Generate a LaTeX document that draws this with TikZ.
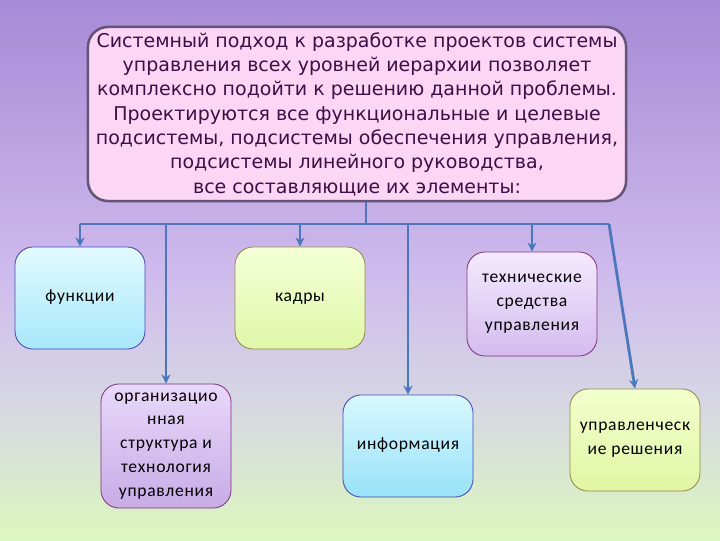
\documentclass[tikz,border=0pt]{standalone}
\usepackage{fontspec}
\setmainfont{Carlito}[LetterSpace=4]
\newfontfamily\introfont{DejaVu Sans}
\usetikzlibrary{arrows.meta, positioning}

\definecolor{bgtop}{RGB}{166,138,214}
\definecolor{bgmid}{RGB}{206,186,236}
\definecolor{bglow}{RGB}{214,214,228}
\definecolor{bgbot}{RGB}{220,247,190}
\definecolor{linkblue}{RGB}{74,120,190}
\definecolor{introfill}{RGB}{251,214,245}
\definecolor{introline}{RGB}{100,84,118}
\definecolor{introtext}{RGB}{60,15,70}

\begin{document}
\begin{tikzpicture}[x=0.025cm, y=-0.025cm,
    box/.style={rounded corners=0.45cm, minimum width=3.25cm, minimum height=2.5cm,
        align=center, font=\fontsize{12.5}{17}\selectfont, text=black, line width=0.6pt},
    oneline/.style={text height=1.6ex, text depth=0.5ex},
    link/.style={draw=linkblue, line width=2pt},
    arr/.style={link, -{Stealth[length=6.5pt, width=6.5pt]}}]

    % Background
    \shade[top color=bgtop, bottom color=bgmid] (0,0) rectangle (720,270);
    \shade[top color=bgmid, bottom color=bglow] (0,270) rectangle (720,400);
    \shade[top color=bglow, bottom color=bgbot] (0,400) rectangle (720,540);
    \useasboundingbox (0,0) rectangle (720,540);

    % Top box
    \node[draw=introline, line width=1.8pt, fill=introfill, rounded corners=0.5cm,
        minimum width=13.45cm, minimum height=4.35cm, align=center, text=introtext,
        font=\introfont\fontsize{13.5}{17.3}\selectfont] (intro) at (357,114)
        {Системный подход к разработке проектов системы\\
         управления всех уровней иерархии позволяет\\
         комплексно подойти к решению данной проблемы.\\
         Проектируются все функциональные и целевые\\
         подсистемы, подсистемы обеспечения управления,\\
         подсистемы линейного руководства,\\
         все составляющие их элементы:};

    % Upper row
    \node[box, oneline, draw=blue!45!gray, top color={rgb,255:red,226;green,250;blue,255},
        bottom color={rgb,255:red,166;green,232;blue,250}, minimum height=2.55cm] (fun) at (80,298) {функции};
    \node[box, oneline, draw=olive!50!gray, top color={rgb,255:red,244;green,255;blue,214},
        bottom color={rgb,255:red,224;green,247;blue,168}, minimum height=2.55cm] (kadry) at (300,298) {кадры};
    \node[box, draw=violet!60!gray, top color={rgb,255:red,244;green,234;blue,255},
        bottom color={rgb,255:red,212;green,188;blue,238}, minimum height=2.6cm] (tech) at (532,304)
        {технические\\средства\\управления};

    % Lower row
    \node[box, draw=violet!60!gray, top color={rgb,255:red,232;green,216;blue,250},
        bottom color={rgb,255:red,200;green,172;blue,230}, minimum height=3.1cm] (org) at (166,446)
        {организацио\\нная\\структура и\\технология\\управления};
    \node[box, oneline, draw=blue!45!gray, top color={rgb,255:red,216;green,248;blue,255},
        bottom color={rgb,255:red,152;green,226;blue,248}, minimum height=2.55cm] (info) at (408,446) {информация};
    \node[box, draw=olive!50!gray, top color={rgb,255:red,242;green,255;blue,204},
        bottom color={rgb,255:red,226;green,246;blue,164}, minimum height=2.55cm] (upr) at (635,440)
        {управленческ\\ие решения};

    % Connectors
    \coordinate (stem) at (366,224);
    \coordinate (busL) at (80,224);
    \coordinate (busR) at (609,224);
    \draw[link] (intro.south -| stem) -- (stem);
    \draw[link] (busL) -- (busR);
    \draw[arr] (busL) -- (fun.north);
    \draw[arr] (org.north |- busL) -- (org.north);
    \draw[arr] (kadry.north |- busL) -- (kadry.north);
    \draw[arr] (info.north |- busL) -- (info.north);
    \draw[arr] (tech.north |- busL) -- (tech.north);
    \draw[arr] (busR) -- (upr.north);

\end{tikzpicture}
\end{document}
